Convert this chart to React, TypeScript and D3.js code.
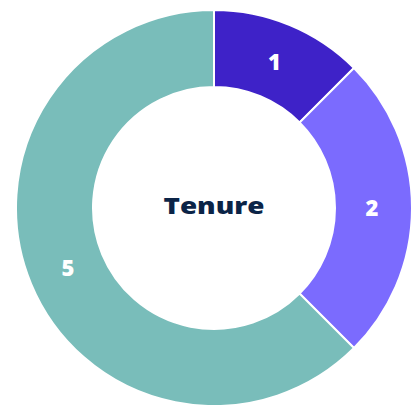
import * as d3 from "d3"

const categories = ["1", "2", "5"]
const values = [1, 2, 5]
const colors = ["#3E22C8", "#7B6BFE", "#79BDBA"]
const title = "Tenure"

type Slice = { label: string; value: number; color: string }

export default function App() {
  const w = 414
  const h = 405
  const cx = 214
  const cy = 208
  const outer = 198
  const inner = 121

  const data: Slice[] = categories.map((c, i) => ({
    label: c,
    value: values[i],
    color: colors[i],
  }))

  const pie = d3
    .pie<Slice>()
    .value((d) => d.value)
    .sort(null)

  const arc = d3
    .arc<d3.PieArcDatum<Slice>>()
    .innerRadius(inner)
    .outerRadius(outer)

  // labels sit a bit outside the ring's middle
  const labelArc = d3
    .arc<d3.PieArcDatum<Slice>>()
    .innerRadius(158)
    .outerRadius(158)

  const arcs = pie(data)

  return (
    <svg
      width={w}
      height={h}
      style={{ position: "absolute", left: 0, top: 0 }}
    >
      <g transform={`translate(${cx},${cy})`}>
        {arcs.map((a) => (
          <path
            key={a.data.label}
            d={arc(a) ?? ""}
            fill={a.data.color}
            stroke="#fff"
            strokeWidth={2}
          />
        ))}
        {arcs.map((a) => {
          const [x, y] = labelArc.centroid(a)
          return (
            <text
              key={"l" + a.data.label}
              x={x}
              y={y}
              dy="0.36em"
              textAnchor="middle"
              fill="#fff"
              fontFamily="'Open Sans', sans-serif"
              fontWeight={800}
              fontSize={22}
            >
              {a.data.label}
            </text>
          )
        })}
        <text
          x={0}
          y={-2}
          dy="0.36em"
          textAnchor="middle"
          fill="#0B2447"
          fontFamily="'Open Sans', sans-serif"
          fontWeight={800}
          fontSize={22}
          textLength={101}
          lengthAdjust="spacingAndGlyphs"
        >
          {title}
        </text>
      </g>
    </svg>
  )
}
